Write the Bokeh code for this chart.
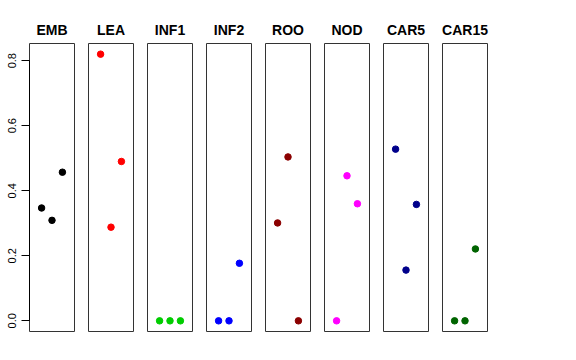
from bokeh.plotting import figure
from bokeh.layouts import row
from bokeh.models import Range1d, LinearAxis, FixedTicker, Title, PrintfTickFormatter
from bokeh.embed import file_html
from bokeh.resources import INLINE

tissues = ["EMB", "LEA", "INF1", "INF2", "ROO", "NOD", "CAR5", "CAR15"]
replicate = [1, 2, 3]
emb = [0.347, 0.309, 0.457]
lea = [0.820, 0.288, 0.490]
inf1 = [0.0, 0.0, 0.0]
inf2 = [0.0, 0.0, 0.177]
roo = [0.301, 0.504, 0.0]
nod = [0.0, 0.446, 0.360]
car5 = [0.528, 0.156, 0.358]
car15 = [0.0, 0.0, 0.221]
colors = ["#000000", "#FF0000", "#00CD00", "#0000FF", "#8B0000", "#FF00FF", "#00008B", "#006400"]
yticks = [0.0, 0.2, 0.4, 0.6, 0.8]

series = [emb, lea, inf1, inf2, roo, nod, car5, car15]
ymax = max(max(s) for s in series)
pad = 0.04 * ymax

FONT = "Liberation Sans"
figs = []
for i, (name, vals, col) in enumerate(zip(tissues, series, colors)):
    p = figure(frame_width=45, frame_height=288,
               x_range=Range1d(-0.16, 4.16), y_range=Range1d(-pad, ymax + pad),
               output_backend="svg", toolbar_location=None,
               x_axis_location=None, y_axis_location=None,
               min_border_left=(29 if i == 0 else 7), min_border_right=7,
               min_border_top=43, min_border_bottom=10)
    p.title = Title(text=name, align="center", text_font=FONT,
                    text_font_size="14px", text_font_style="bold",
                    text_color="#000000", standoff=11)
    p.xgrid.visible = False
    p.ygrid.visible = False
    p.outline_line_color = "#333333"
    p.outline_line_width = 1
    p.outline_line_alpha = 1.0
    p.background_fill_color = "white"
    p.border_fill_color = "white"
    p.scatter(replicate, vals, size=6.5, color=col, line_color=col)
    if i == 0:
        ax = LinearAxis(ticker=FixedTicker(ticks=yticks), bounds=(0, 0.8),
                        formatter=PrintfTickFormatter(format="%.1f"))
        ax.major_label_orientation = "vertical"
        ax.major_label_text_font = FONT
        ax.major_label_text_font_size = "11px"
        ax.major_label_text_color = "#000000"
        ax.major_tick_out = 8
        ax.major_tick_in = 0
        ax.minor_tick_out = 0
        ax.minor_tick_in = 0
        ax.major_label_standoff = 5
        ax.axis_line_color = "#000000"
        ax.major_tick_line_color = "#000000"
        p.add_layout(ax, "left")
    figs.append(p)

layout = row(*figs)
open("out.html", "w").write(file_html(layout, INLINE))
